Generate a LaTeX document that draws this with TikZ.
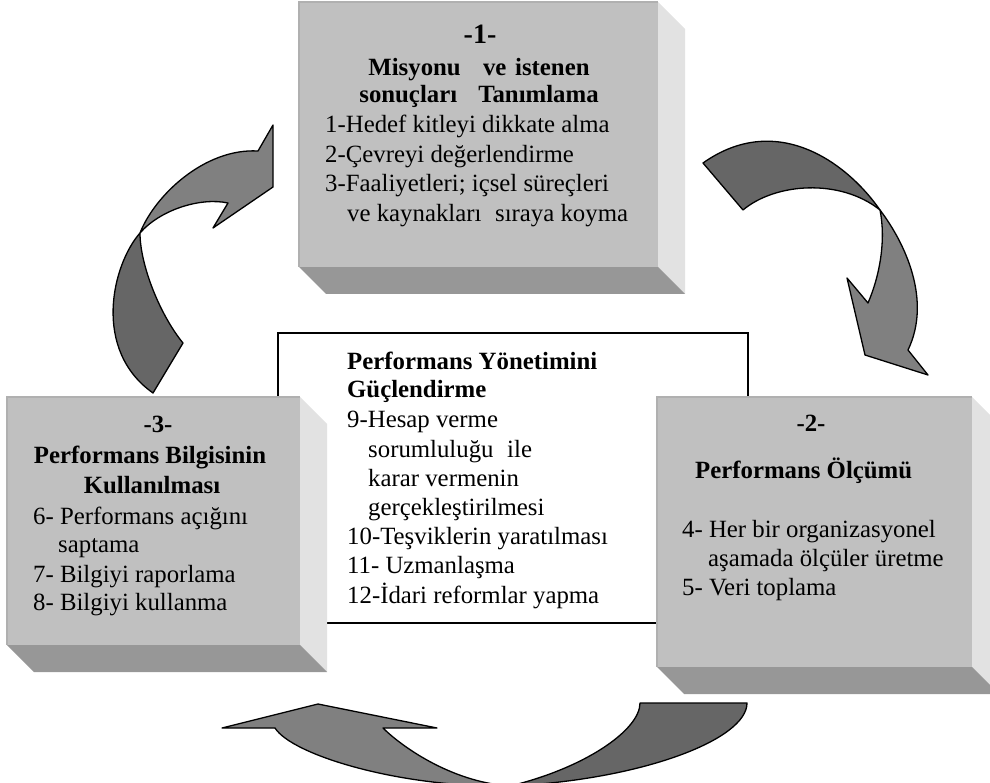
\documentclass[tikz,border=0pt]{standalone}
\usepackage{fontspec}
\setmainfont{Liberation Serif}
\begin{document}
\definecolor{faceg}{HTML}{C0C0C0}
\definecolor{sideg}{HTML}{E2E2E2}
\definecolor{botg}{HTML}{979797}
\definecolor{edgeg}{HTML}{B0B0B0}
\definecolor{ribdark}{HTML}{666666}
\definecolor{riblight}{HTML}{808080}
% extruded box: face corners (x1,y1)-(x2,y2), depth d
\newcommand\bevelbox[5]{%
  \fill[sideg] (#3,#2) -- ({#3+#5},{#2+#5}) -- ({#3+#5},{#4+#5}) -- (#3,#4) -- cycle;
  \fill[botg] (#1,#4) -- (#3,#4) -- ({#3+#5},{#4+#5}) -- ({#1+#5},{#4+#5}) -- cycle;
  \fill[faceg] (#1,#2) rectangle (#3,#4);
  \draw[edgeg,line width=1.5pt] (#1,#4) -- (#1,#2) -- (#3,#2);
}
\tikzset{
  body/.style={font=\fontsize{24.8}{29}\selectfont, inner sep=0pt, anchor=base west},
  head/.style={font=\fontsize{24.8}{29}\selectfont\bfseries, inner sep=0pt, anchor=base},
  headl/.style={head, anchor=base west},
  bignum/.style={font=\fontsize{28}{32}\selectfont\bfseries, inner sep=0pt, anchor=base},
  ribbonback/.style={fill=ribdark, draw=black, line width=1.3pt, line join=round},
  ribbonfront/.style={fill=riblight, draw=black, line width=1.3pt, line join=round},
  frame/.style={draw=black, fill=white, line width=1.5pt}
}
\begin{tikzpicture}[x=1pt,y=-1pt]
\useasboundingbox (0,0) rectangle (990,783);

% central frame
\draw[frame] (278,333) rectangle (748,623);

% the three stage boxes
\bevelbox{299}{2}{658}{267}{27}
\bevelbox{7}{397}{300}{645}{27}
\bevelbox{657}{397}{972}{667}{27}

% stage 1
\node[bignum] (n1) at (480,44) {-1-};
\node[head] (h1a) at (479,76) {Misyonu\hspace{0.9em}ve\hspace{0.35em}istenen};
\node[head] (h1b) at (479,103) {sonuçları\hspace{0.85em}Tanımlama};
\node[body] (b1a) at (325,133) {1-Hedef kitleyi dikkate alma};
\node[body] (b1b) at (325,163) {2-Çevreyi değerlendirme};
\node[body] (b1c) at (325,192) {3-Faaliyetleri; içsel süreçleri};
\node[body] (b1d) at (347,222) {ve kaynakları\hspace{0.3em} sıraya koyma};

% stage 2
\node[head] (n2) at (811,431) {-2-};
\node[headl] (h2a) at (695,478) {Performans Ölçümü};
\node[body] (b2a) at (682,537) {4- Her bir organizasyonel};
\node[body] (b2b) at (708,566) {aşamada ölçüler üretme};
\node[body] (b2c) at (682,595) {5- Veri toplama};

% stage 3
\node[head] (n3) at (158,432) {-3-};
\node[head] (h3a) at (150,463) {Performans Bilgisinin};
\node[head] (h3b) at (152,493) {Kullanılması};
\node[body] (b3a) at (33,524) {6- Performans açığını};
\node[body] (b3b) at (58,552) {saptama};
\node[body] (b3c) at (33,582) {7- Bilgiyi raporlama};
\node[body] (b3d) at (33,610) {8- Bilgiyi kullanma};

% centre
\node[headl] (hca) at (347,369) {Performans Yönetimini};
\node[headl] (hcb) at (347,397) {Güçlendirme};
\node[body] (bca) at (347,427) {9-Hesap verme};
\node[body] (bcb) at (368,457) {sorumluluğu\hspace{0.3em} ile};
\node[body] (bcc) at (368,486) {karar vermenin};
\node[body] (bcd) at (368,515) {gerçekleştirilmesi};
\node[body] (bce) at (347,544) {10-Teşviklerin yaratılması};
\node[body] (bcf) at (347,573) {11- Uzmanlaşma};
\node[body] (bcg) at (347,603) {12-İdari reformlar yapma};

% curved arrow: stage 3 -> stage 1
\filldraw[ribbonback] (153,393) -- (183,343) .. controls (160,315) and (140,265) .. (140,233)
  .. controls (112,265) and (92,350) .. (153,393) -- cycle;
\filldraw[ribbonfront] (140,233) .. controls (155,195) and (205,148) .. (258,151)
  -- (273,125) -- (273,187) -- (213,228) -- (228,203)
  .. controls (200,197) and (160,210) .. (140,233) -- cycle;

% curved arrow: stage 1 -> stage 2
\filldraw[ribbonback] (703,163) -- (743,210) .. controls (775,183) and (840,178) .. (880,210)
  .. controls (845,160) and (775,112) .. (703,163) -- cycle;
\filldraw[ribbonfront] (880,210) .. controls (905,243) and (932,300) .. (908,350)
  -- (928,375) -- (865,355) -- (847,278) -- (868,303)
  .. controls (880,275) and (886,240) .. (880,210) -- cycle;

% curved arrow: stage 2 -> stage 3
\filldraw[ribbonback] (640,703) -- (747,703) .. controls (747,740) and (640,780) .. (510,786)
  .. controls (585,768) and (640,730) .. (640,703) -- cycle;
\filldraw[ribbonfront] (510,786) .. controls (450,782) and (400,745) .. (383,728)
  -- (437,728) -- (318,704) -- (222,728) -- (275,728)
  .. controls (292,755) and (400,788) .. (510,786) -- cycle;
\end{tikzpicture}
\end{document}
